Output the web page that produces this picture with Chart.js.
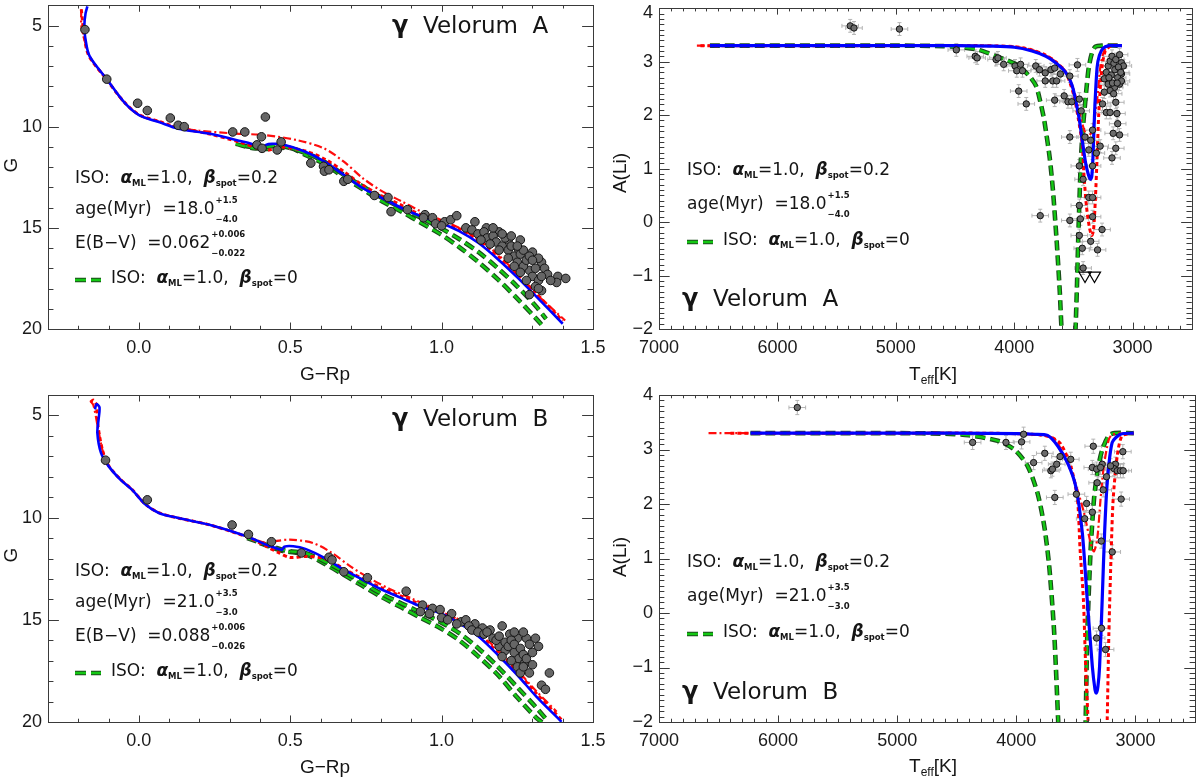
<!DOCTYPE html>
<html><head><meta charset="utf-8">
<script src="https://cdn.jsdelivr.net/npm/chart.js@4.4.1/dist/chart.umd.min.js"></script>
<style>
html,body{margin:0;padding:0;background:#fff;}
#wrap{position:relative;width:1200px;height:780px;overflow:hidden;background:#fff}
#wrap canvas{position:absolute;left:0;top:0}
</style></head><body>
<div id="wrap">
<canvas id="cTL" width="1200" height="780"></canvas>
<canvas id="cTR" width="1200" height="780"></canvas>
<canvas id="cBL" width="1200" height="780"></canvas>
<canvas id="cBR" width="1200" height="780"></canvas>
</div>
<script>
// ---------------- tick labels ----------------
const cmdXTicks = [0.0, 0.5, 1.0, 1.5];
const cmdYTicks = [5, 10, 15, 20];
const liXTicks = [7000, 6000, 5000, 4000, 3000];
const liYTicks = [-2, -1, 0, 1, 2, 3, 4];

// ---------------- gamma Vel A : CMD ----------------
const cmdA_starX = [-0.178,-0.106,-0.004,0.028,0.104,0.13,0.15,0.31,0.35,0.418,0.405,0.39,0.407,0.457,0.47,0.568,0.61,0.613,0.628,0.677,0.69,0.778,0.823,0.833,0.887,0.945,0.97,1.01,1.03,1.05,1.11,1.148,1.19,1.22,1.26,1.255,1.30,1.33,1.34,1.29,1.35,1.384,1.41,1.38,1.33,1.08,1.10,1.12,1.14,1.15,1.17,1.18,1.20,1.21,1.22,1.23,1.24,1.25,1.26,1.27,1.28,1.29,1.30,1.31,1.32,1.31,1.28,1.26,1.24,1.22,1.19,1.16,1.13,1.32,1.36,1.33,1.30,1.27,1.25,1.23,1.20,1.17,1.29,1.32,0.94,0.98,1.00];
const cmdA_starG = [5.2,7.65,8.84,9.2,9.57,9.93,10.0,10.26,10.26,9.52,10.5,10.9,11.07,11.15,10.75,11.8,11.96,12.2,12.13,12.7,12.6,13.4,13.5,14.2,14.1,14.35,14.5,14.7,14.6,14.4,14.7,15.0,15.2,15.6,15.6,16.1,16.2,16.7,17.0,17.1,17.3,17.4,17.5,17.7,18.1,15.0,15.1,15.3,15.2,15.5,15.4,15.7,15.9,15.5,16.1,15.9,16.4,16.7,16.3,16.9,16.6,16.4,17.4,17.0,17.6,17.9,17.6,17.2,16.9,16.5,16.1,15.8,15.6,16.5,17.6,17.4,16.6,16.1,15.9,15.4,15.3,15.0,18.3,18.0,14.5,14.8,14.9];
const cmdA_bestX = [-0.17,-0.176,-0.18,-0.177,-0.163,-0.106,-0.048,0.002,0.066,0.13,0.231,0.346,0.395,0.41,0.42,0.44,0.473,0.55,0.613,0.677,0.74,0.804,0.868,0.931,0.995,1.058,1.122,1.186,1.25,1.313,1.40];
const cmdA_bestG = [4.05,4.4,5.0,5.6,6.5,7.65,8.8,9.44,9.77,10.1,10.34,10.75,10.95,11.05,10.9,10.85,10.87,11.24,11.73,12.38,13.04,13.53,14.02,14.43,14.75,15.16,15.75,16.55,17.45,18.4,19.74];
const cmdA_dotX = [-0.19,-0.186,-0.18,-0.165,-0.11,-0.05,0.0,0.07,0.13,0.23,0.33,0.40,0.43,0.47,0.55,0.62,0.68,0.74,0.80,0.87,0.93,1.0,1.06,1.12,1.19,1.25,1.31,1.40];
const cmdA_dotG = [4.2,4.8,5.6,6.5,7.6,8.75,9.4,9.75,10.05,10.35,10.75,11.1,11.15,11.0,11.2,11.65,12.25,12.9,13.4,13.9,14.35,14.7,15.05,15.6,16.45,17.3,18.2,19.6];
const cmdA_ddX = [-0.19,-0.19,-0.178,-0.16,-0.106,-0.05,0.0,0.07,0.13,0.2,0.32,0.42,0.524,0.613,0.677,0.74,0.804,0.868,0.931,0.995,1.058,1.122,1.186,1.25,1.313,1.408];
const cmdA_ddG = [4.2,5.0,5.8,6.6,7.65,8.78,9.42,9.77,10.05,10.2,10.34,10.42,10.67,11.08,11.73,12.55,13.2,13.69,14.18,14.59,15.0,15.57,16.31,17.29,18.27,19.58];
const cmdA_g1X = [0.32,0.385,0.42,0.47,0.55,0.613,0.677,0.74,0.804,0.868,0.931,0.995,1.058,1.122,1.186,1.25,1.313,1.345];
const cmdA_g1G = [10.85,11.08,11.0,10.95,11.3,11.73,12.38,12.96,13.53,14.02,14.5,15.0,15.55,16.2,17.0,17.9,18.9,19.5];
const cmdA_g2X = [0.35,0.42,0.5,0.55,0.613,0.677,0.74,0.804,0.868,0.931,0.995,1.058,1.122,1.186,1.25,1.313,1.34];
const cmdA_g2G = [10.95,11.1,11.05,11.4,11.85,12.5,13.1,13.7,14.2,14.75,15.3,15.95,16.7,17.55,18.5,19.5,19.95];

// ---------------- gamma Vel B : CMD ----------------
const cmdB_starX = [-0.11,0.028,0.308,0.362,0.438,0.537,0.628,0.638,0.677,0.755,0.883,0.937,0.97,0.995,1.033,1.065,1.08,1.11,1.135,1.16,1.2,1.225,1.25,1.28,1.29,1.19,1.21,1.24,1.255,1.275,1.3,1.29,1.356,1.33,1.343,0.93,0.96,1.0,1.02,1.05,1.09,1.1,1.12,1.14,1.15,1.17,1.18,1.19,1.21,1.22,1.23,1.24,1.26,1.27,1.28,1.2,1.23,1.25,1.26,1.27,1.24,1.27,1.31,1.32,1.3];
const cmdB_starG = [7.19,9.13,10.36,10.82,11.18,11.73,11.94,12.07,12.65,12.94,13.6,14.28,14.44,14.5,14.7,15.1,15.0,15.2,15.4,15.5,15.3,15.7,15.9,15.9,16.2,16.3,16.5,16.6,16.9,17.1,17.2,17.6,17.6,18.2,18.4,14.6,14.7,14.9,15.0,15.2,15.3,15.5,15.6,15.7,15.6,15.9,16.0,15.8,16.1,16.3,16.0,16.2,16.4,16.7,16.9,16.8,17.0,17.3,17.6,17.3,15.6,15.6,15.9,16.3,16.6];
const cmdB_bestX = [-0.145,-0.14,-0.13,-0.133,-0.137,-0.125,-0.1,-0.061,-0.023,0.022,0.066,0.13,0.23,0.358,0.42,0.473,0.48,0.51,0.55,0.613,0.677,0.74,0.804,0.868,0.931,0.995,1.058,1.122,1.186,1.25,1.313,1.396];
const cmdB_bestG = [4.7,4.45,4.6,5.2,5.85,6.83,7.48,8.14,8.63,9.36,9.77,10.02,10.34,10.92,11.32,11.57,11.42,11.4,11.53,11.97,12.55,13.04,13.53,13.94,14.35,14.67,15.16,15.82,16.72,17.7,18.76,19.99];
const cmdB_dotX = [-0.16,-0.15,-0.14,-0.135,-0.12,-0.1,-0.061,-0.023,0.022,0.066,0.13,0.23,0.358,0.42,0.46,0.50,0.55,0.613,0.677,0.74,0.804,0.868,0.931,0.995,1.058,1.122,1.186,1.25,1.313,1.40];
const cmdB_dotG = [4.35,4.25,4.5,5.5,6.7,7.45,8.12,8.62,9.35,9.76,10.02,10.34,10.95,11.4,11.7,11.95,11.9,12.0,12.5,13.0,13.45,13.85,14.25,14.6,15.05,15.7,16.6,17.55,18.6,19.95];
const cmdB_ddX = [-0.16,-0.15,-0.135,-0.12,-0.1,-0.061,-0.023,0.022,0.066,0.13,0.23,0.358,0.42,0.448,0.498,0.575,0.638,0.70,0.766,0.83,0.9,0.97,1.04,1.1,1.17,1.24,1.31,1.38];
const cmdB_ddG = [4.3,4.5,5.6,6.7,7.45,8.12,8.62,9.35,9.76,10.02,10.34,10.92,11.25,11.16,11.08,11.24,11.73,12.4,13.0,13.5,13.95,14.4,14.85,15.4,16.25,17.3,18.45,19.5];
const cmdB_g1X = [0.358,0.42,0.473,0.5,0.55,0.613,0.677,0.74,0.804,0.868,0.931,0.995,1.058,1.122,1.186,1.25,1.313,1.35];
const cmdB_g1G = [11.0,11.32,11.57,11.65,11.73,12.14,12.65,13.2,13.75,14.2,14.65,15.1,15.65,16.4,17.3,18.3,19.3,19.95];
const cmdB_g2X = [0.40,0.473,0.55,0.613,0.677,0.74,0.804,0.868,0.931,0.995,1.058,1.122,1.186,1.25,1.313,1.335];
const cmdB_g2G = [11.25,11.62,11.8,12.25,12.8,13.35,13.9,14.4,14.9,15.4,16.0,16.8,17.7,18.8,19.8,20.05];

// ---------------- gamma Vel A : Lithium ----------------
const liA_T = [5385,5353,4969,4489,4329,4313,4153,4137,4089,3993,3946,3978,3930,3962,3898,3818,3786,3738,3738,3690,3658,3674,3642,3610,3530,3578,3658,3546,3514,3466,3450,3434,3530,3402,3354,3338,3370,3450,3418,3338,3306,3274,3780,3530,3450,3441,3450,3425,3370,3338,3338,3354,3296,3258,3418,3239,3222,3206,3190,3174,3158,3142,3110,3094,3078,3094,3126,3110,3152,3190,3206,3239,3254,3222,3190,3142,3132,3126,3164,3110,3142,3174,3094,3180,3150,3120,3100,3170,3200,3130,3160];
const liA_A = [3.67,3.63,3.61,3.22,3.10,3.07,3.04,3.07,2.95,2.92,2.95,2.83,2.83,2.45,2.21,2.92,2.85,2.79,2.64,2.85,2.88,2.64,2.64,2.77,2.73,2.36,2.28,2.25,2.25,2.94,2.3,2.08,1.59,1.59,1.53,1.72,1.35,1.05,0.80,1.05,1.29,1.42,0.12,0.03,0.31,0.06,-0.25,-0.49,0.46,0.46,0.1,-0.36,-0.52,-0.14,-0.86,2.68,2.8,2.92,3.01,3.1,2.97,3.04,3.13,2.98,2.92,2.77,2.7,2.58,2.52,2.46,2.58,2.43,2.21,2.05,2.05,2.24,2.03,1.84,1.66,1.63,1.38,1.20,2.64,2.75,2.85,2.9,2.8,2.6,2.7,2.6,2.4];
const liA_limT = [3402, 3322];
const liA_limA = [-1.0, -1.0];
const liA_errT = 70, liA_errA = 0.12;
const liA_bestT = [6570,6000,5000,4500,4200,4000,3850,3732,3650,3565,3510,3454,3420,3398,3375,3356,3345,3335,3320,3300,3280,3250,3200,3150,3090];
const liA_bestA = [3.3,3.3,3.3,3.3,3.29,3.27,3.2,3.1,2.98,2.8,2.55,1.97,1.45,1.12,0.9,0.8,0.85,1.2,2.1,2.89,3.12,3.25,3.3,3.3,3.3];
const liA_dotT = [6650,5000,4300,4000,3850,3732,3650,3565,3500,3460,3426,3412,3390,3365,3345,3330,3315,3300,3287,3270,3255,3230,3180,3090];
const liA_dotA = [3.3,3.3,3.3,3.28,3.22,3.12,3.0,2.8,2.4,1.95,1.47,0.92,0.3,-0.1,-0.25,-0.15,0.4,1.2,1.97,2.6,2.95,3.2,3.3,3.3];
const liA_ddT = [6680,5000,4300,4000,3850,3732,3650,3565,3500,3460,3420,3398,3370,3342,3320,3300,3273,3240,3180,3090];
const liA_ddA = [3.3,3.3,3.3,3.28,3.22,3.12,3.0,2.82,2.5,2.15,1.8,1.66,1.6,1.72,1.95,2.27,2.89,3.2,3.3,3.3];
const liA_gT = [6570,5000,4600,4450,4300,4149,3983,3880,3816,3790,3750,3732,3700,3673,3640,3615,3600,3570,3500,3482,3470,3459,3446,3436,3420,3400,3385,3370,3345,3314,3250,3090];
const liA_gA = [3.3,3.3,3.29,3.27,3.22,3.1,2.95,2.75,2.55,2.35,1.95,1.7,1.2,0.6,-0.4,-1.3,-2.0,-2.8,-2.8,-2.0,-1.2,-0.3,0.6,1.2,1.75,2.25,2.6,2.89,3.15,3.28,3.3,3.3];

// ---------------- gamma Vel B : Lithium ----------------
const liB_T = [5839,4367,4087,3956,3939,3855,3761,3710,3697,3661,3633,3543,3677,3496,3410,3426,3362,3354,3362,3321,3326,3279,3271,3243,3287,3195,3168,3181,3153,3126,3106,3103,3120,3285,3326,3251,3209,3293];
const liB_A = [3.77,3.13,3.13,3.14,3.28,2.76,2.93,2.61,2.64,2.73,2.87,2.82,2.12,2.18,2.01,1.73,1.85,3.06,2.67,2.39,2.64,2.73,2.26,2.5,1.32,1.12,2.73,2.65,2.61,2.61,2.96,2.61,2.09,-0.28,-0.46,-0.67,2.7,2.67];
const liB_errT = 70, liB_errA = 0.13;
const liB_bestT = [6232,5000,4500,4000,3850,3738,3654,3571,3502,3446,3405,3362,3340,3329,3315,3301,3279,3259,3237,3195,3126,3014];
const liB_bestA = [3.3,3.3,3.3,3.29,3.28,3.26,3.07,2.76,2.33,1.47,0.25,-0.98,-1.4,-1.47,-1.35,-0.98,0.25,1.47,2.39,3.13,3.28,3.3];
const liB_dotT = [6400,5000,4300,4000,3800,3700,3626,3543,3487,3465,3437,3418,3398,3390,3245,3237,3223,3203,3187,3153,3112,3014];
const liB_dotA = [3.3,3.3,3.3,3.29,3.27,3.22,3.1,2.7,2.09,1.17,0.25,-0.98,-1.96,-2.6,-2.6,-1.96,-0.37,1.17,2.09,2.88,3.25,3.3];
const liB_ddT = [6584,5000,4300,4000,3800,3682,3599,3515,3432,3377,3349,3321,3293,3265,3223,3190,3014];
const liB_ddA = [3.3,3.3,3.3,3.29,3.26,3.2,2.88,2.45,1.84,1.29,1.13,1.35,2.09,2.7,3.19,3.28,3.3];
const liB_gT = [6232,5000,4600,4400,4156,4017,3906,3822,3766,3724,3682,3649,3635,3430,3418,3404,3376,3348,3320,3278,3209,3014];
const liB_gA = [3.3,3.3,3.29,3.26,3.16,3.0,2.7,2.2,1.6,0.86,-0.37,-1.96,-2.6,-2.6,-1.96,-0.37,1.17,2.09,2.58,3.0,3.28,3.3];

// ---------------- annotation values ----------------
const clusterA = 'A', clusterB = 'B';
const ageA = '18.0', ageA_up = '+1.5', ageA_lo = '\u22124.0';
const ageB = '21.0', ageB_up = '+3.5', ageB_lo = '\u22123.0';
const ebvA = '0.062', ebvA_up = '+0.006', ebvA_lo = '\u22120.022';
const ebvB = '0.088', ebvB_up = '+0.006', ebvB_lo = '\u22120.026';
const alphaML = '1.0', betaSpot = '0.2', betaZero = '0';

// ================= helpers =================
const TICKFAM = '"Liberation Sans", Arial, sans-serif';
const TXT = '"DejaVu Sans", sans-serif';
const F_MAIN = '17px ' + TXT;
const F_GREEK = 'bold italic 17px ' + TXT;
const F_SUB = 'bold 8.5px ' + TXT;
const INK = '#151515';

function pts(xs, ys){ return xs.map((v,i)=>({x:v, y:ys[i]})); }

const ST = {
  blue:  {borderColor:'#0000ff', borderWidth:2.6},
  red:   {borderColor:'#ff0000', borderWidth:3, borderDash:[4,3]},
  redDD: {borderColor:'#ff0d0d', borderWidth:2.2, borderDash:[8,3,2,3]},
  gDark: {borderColor:'#1b4a1b', borderWidth:4.6, borderDash:[10,5]},
  gLite: {borderColor:'#14c814', borderWidth:2.4, borderDash:[10,5]},
};
function lineDS(xs, ys, style, order, tension){
  return Object.assign({type:'line', data:pts(xs,ys), pointRadius:0, fill:false,
    tension: tension, order: order, borderCapStyle:'butt'}, style);
}
function greenPair(xs, ys, order, tension){
  return [lineDS(xs, ys, ST.gDark, order+1, tension), lineDS(xs, ys, ST.gLite, order, tension)];
}

function rich(ctx, x, y, segs){
  let cx = x;
  ctx.textBaseline = 'middle'; ctx.textAlign = 'left'; ctx.fillStyle = INK;
  for (const s of segs){
    if (s.stack){
      ctx.font = s.f;
      ctx.fillText(s.sup, cx + 1, y - 9);
      ctx.fillText(s.sub, cx + 1, y + 10);
      cx += Math.max(ctx.measureText(s.sup).width, ctx.measureText(s.sub).width) + 1;
    } else {
      ctx.font = s.f;
      ctx.fillText(s.t, cx, y + (s.dy || 0));
      cx += ctx.measureText(s.t).width + (s.gap || 0);
    }
  }
  return cx;
}
function isoSegs(beta){
  return [{t:'ISO:  ', f:F_MAIN}, {t:'\u03b1', f:F_GREEK}, {t:'ML', f:F_SUB, dy:5},
          {t:'=' + alphaML + ',  ', f:F_MAIN}, {t:'\u03b2', f:F_GREEK}, {t:'spot', f:F_SUB, dy:5},
          {t:'=' + beta, f:F_MAIN}];
}
function greenSample(ctx, x, y){
  ctx.save();
  ctx.lineCap = 'butt';
  ctx.setLineDash([11,5]);
  ctx.strokeStyle = ST.gDark.borderColor; ctx.lineWidth = 4.6;
  ctx.beginPath(); ctx.moveTo(x, y); ctx.lineTo(x + 26, y); ctx.stroke();
  ctx.strokeStyle = ST.gLite.borderColor; ctx.lineWidth = 2.4;
  ctx.beginPath(); ctx.moveTo(x, y); ctx.lineTo(x + 26, y); ctx.stroke();
  ctx.restore();
}
function titleText(ctx, x, y, which){
  rich(ctx, x, y, [{t:'\u03b3', f:'bold 24px ' + TXT}, {t:'  Velorum  ' + which, f:'23px ' + TXT}]);
}

function framePlugin(minorX, majorX, minorY, majorY){
  return {id:'frame', afterDatasetsDraw(chart){
    const {ctx, chartArea:a} = chart; const sx = chart.scales.x, sy = chart.scales.y;
    ctx.save();
    ctx.strokeStyle = '#3a3a3a'; ctx.lineWidth = 1;
    ctx.strokeRect(Math.round(a.left)+0.5, Math.round(a.top)+0.5, Math.round(a.right-a.left), Math.round(a.bottom-a.top));
    const h = a.bottom - a.top, w = a.right - a.left;
    const xMaj = 0.02*h, yMaj = 0.02*w;
    ctx.beginPath();
    const lo = Math.min(sx.min, sx.max), hi = Math.max(sx.min, sx.max);
    const nx = Math.round((hi-lo)/minorX);
    for (let i=0;i<=nx;i++){
      const v = lo + i*minorX; const r = v/majorX;
      const L = Math.abs(r - Math.round(r)) < 1e-6 ? xMaj : xMaj/2;
      const px = Math.round(sx.getPixelForValue(v)) + 0.5;
      ctx.moveTo(px, a.bottom); ctx.lineTo(px, a.bottom - L);
      ctx.moveTo(px, a.top); ctx.lineTo(px, a.top + L);
    }
    const ylo = Math.min(sy.min, sy.max), yhi = Math.max(sy.min, sy.max);
    const ny = Math.round((yhi-ylo)/minorY);
    for (let i=0;i<=ny;i++){
      const v = ylo + i*minorY; const r = v/majorY;
      const L = Math.abs(r - Math.round(r)) < 1e-6 ? yMaj : yMaj/2;
      const py = Math.round(sy.getPixelForValue(v)) + 0.5;
      ctx.moveTo(a.left, py); ctx.lineTo(a.left + L, py);
      ctx.moveTo(a.right, py); ctx.lineTo(a.right - L, py);
    }
    ctx.stroke();
    ctx.restore();
  }};
}
const errPlugin = {id:'errbars', beforeDatasetsDraw(chart){
  const {ctx, chartArea:a} = chart; const sx = chart.scales.x, sy = chart.scales.y;
  ctx.save();
  ctx.beginPath(); ctx.rect(a.left, a.top, a.right-a.left, a.bottom-a.top); ctx.clip();
  ctx.strokeStyle = '#b4b4b4'; ctx.lineWidth = 1;
  chart.data.datasets.forEach(ds=>{
    if (ds.errX === undefined) return;
    ds.data.forEach(p=>{
      const x1 = sx.getPixelForValue(p.x - ds.errX), x2 = sx.getPixelForValue(p.x + ds.errX);
      const y1 = sy.getPixelForValue(p.y - ds.errY), y2 = sy.getPixelForValue(p.y + ds.errY);
      const px = sx.getPixelForValue(p.x), py = sy.getPixelForValue(p.y);
      ctx.beginPath();
      ctx.moveTo(x1, py); ctx.lineTo(x2, py);
      ctx.moveTo(x1, py-2); ctx.lineTo(x1, py+2);
      ctx.moveTo(x2, py-2); ctx.lineTo(x2, py+2);
      ctx.moveTo(px, y1); ctx.lineTo(px, y2);
      ctx.moveTo(px-2, y1); ctx.lineTo(px+2, y1);
      ctx.moveTo(px-2, y2); ctx.lineTo(px+2, y2);
      ctx.stroke();
    });
  });
  ctx.restore();
}};
function textPlugin(fn){ return {id:'txt', afterDraw(chart){ const c = chart.ctx; c.save(); fn(c, chart); c.restore(); }}; }

function axisCfg(opts){
  return {
    type:'linear', min:opts.min, max:opts.max, reverse:!!opts.reverse,
    afterBuildTicks: s => { s.ticks = opts.ticks.map(v=>({value:v})); },
    afterFit: s => {
      if (opts.horizontal){ s.height = opts.size; s.paddingLeft = 0; s.paddingRight = 0; }
      else { s.width = opts.size; s.paddingTop = 0; s.paddingBottom = 0; }
    },
    grid:{display:false, drawTicks:false}, border:{display:false},
    ticks:{padding: opts.pad, color:'#1a1a1a', font:{family:TICKFAM, size:18}, maxRotation:0, autoSkip:false,
           callback: opts.fmt}
  };
}

function makeChart(canvasId, box, xOpt, yOpt, datasets, plugins){
  const yW = box.L - box.padL;
  return new Chart(document.getElementById(canvasId), {
    type:'scatter',
    data:{datasets},
    options:{
      responsive:false, animation:false, devicePixelRatio:1, events:[],
      layout:{padding:{left:box.padL, right:1200-box.R, top:box.T, bottom:780-box.B-box.xH}},
      plugins:{legend:{display:false}, tooltip:{enabled:false}},
      scales:{
        x: axisCfg(Object.assign({horizontal:true, size:box.xH, pad:8}, xOpt)),
        y: axisCfg(Object.assign({horizontal:false, size:yW, pad:6}, yOpt))
      }
    },
    plugins: plugins
  });
}

const fmtCMDx = v => Number(v).toFixed(1);
const fmtInt = v => String(v);
const fmtLiY = v => v < 0 ? '\u2212' + Math.abs(v) : String(v);
const fmtLiYtop = v => v === 4 ? '' : fmtLiY(v);

function starDS(xs, ys, order){
  return {type:'scatter', data:pts(xs,ys), pointRadius:4.3, pointBackgroundColor:'#666666',
          pointBorderColor:'#151515', pointBorderWidth:1, order:order};
}
function liStarDS(xs, ys, eT, eA, order){
  return {type:'scatter', data:pts(xs,ys), pointRadius:3.2, pointBackgroundColor:'#6c6c6c',
          pointBorderColor:'#111111', pointBorderWidth:1, order:order, errX:eT, errY:eA};
}

function cmdTexts(ctx, o){
  titleText(ctx, 392, o.titleY, o.which);
  rich(ctx, 75, o.y0, isoSegs(betaSpot));
  rich(ctx, 75, o.y0 + 31, [{t:'age(Myr)  =' + o.age, f:F_MAIN}, {stack:true, sup:o.up, sub:o.lo, f:F_SUB}]);
  rich(ctx, 75, o.y0 + 65, [{t:'E(B\u2212V)  =' + o.ebv, f:F_MAIN}, {stack:true, sup:o.eup, sub:o.elo, f:F_SUB}]);
  greenSample(ctx, 75, o.y0 + 101);
  rich(ctx, 111, o.y0 + 100, isoSegs(betaZero));
  // axis titles
  ctx.font = '19px ' + TICKFAM; ctx.fillStyle = INK; ctx.textAlign = 'center'; ctx.textBaseline = 'middle';
  ctx.fillText('G\u2212Rp', 325, o.xtY);
  ctx.save(); ctx.translate(12, o.ytY); ctx.rotate(-Math.PI/2); ctx.fillText('G', 0, 0); ctx.restore();
}
function liTexts(ctx, o){
  titleText(ctx, 682, o.titleY, o.which);
  rich(ctx, 687, o.y0, isoSegs(betaSpot));
  rich(ctx, 687, o.y0 + 34, [{t:'age(Myr)  =' + o.age, f:F_MAIN}, {stack:true, sup:o.up, sub:o.lo, f:F_SUB}]);
  greenSample(ctx, 687, o.y0 + 71);
  rich(ctx, 723, o.y0 + 70, isoSegs(betaZero));
  // axis titles
  ctx.fillStyle = INK; ctx.textBaseline = 'middle';
  ctx.font = '19px ' + TICKFAM;
  const w1 = ctx.measureText('T').width; ctx.font = '12px ' + TICKFAM; const w2 = ctx.measureText('eff').width;
  ctx.font = '19px ' + TICKFAM; const w3 = ctx.measureText('[K]').width;
  let x = 933 - (w1 + w2 + w3)/2; ctx.textAlign = 'left';
  ctx.fillText('T', x, o.xtY); x += w1;
  ctx.font = '12px ' + TICKFAM; ctx.fillText('eff', x, o.xtY + 6); x += w2;
  ctx.font = '19px ' + TICKFAM; ctx.fillText('[K]', x, o.xtY);
  ctx.textAlign = 'center';
  ctx.save(); ctx.translate(621, o.ytY); ctx.rotate(-Math.PI/2); ctx.fillText('A(Li)', 0, 0); ctx.restore();
  if (o.topLabel){
    ctx.textAlign = 'right'; ctx.font = '18px ' + TICKFAM; ctx.fillStyle = '#1a1a1a';
    ctx.fillText('4', 653, o.chart.scales.y.getPixelForValue(4) + 5);
  }
}

// ================= panels =================
// top-left : CMD gamma Vel A
makeChart('cTL', {padL:0, L:48, R:593, T:3, B:329, xH:61},
  {min:-0.3, max:1.5, ticks:cmdXTicks, fmt:fmtCMDx},
  {min:4, max:20, reverse:true, ticks:cmdYTicks, fmt:fmtInt},
  [
    starDS(cmdA_starX, cmdA_starG, 0),
    ...greenPair(cmdA_g1X, cmdA_g1G, 6, 0.3),
    ...greenPair(cmdA_g2X, cmdA_g2G, 8, 0.3),
    lineDS(cmdA_ddX, cmdA_ddG, ST.redDD, 4, 0.3),
    lineDS(cmdA_dotX, cmdA_dotG, ST.red, 3, 0.3),
    lineDS(cmdA_bestX, cmdA_bestG, ST.blue, 2, 0.3),
  ],
  [framePlugin(0.1, 0.5, 1, 5), textPlugin((ctx)=>cmdTexts(ctx, {which:clusterA, titleY:27, y0:179, age:ageA, up:ageA_up, lo:ageA_lo, ebv:ebvA, eup:ebvA_up, elo:ebvA_lo, xtY:375, ytY:165}))]
);

// top-right : Li gamma Vel A
makeChart('cTR', {padL:600, L:659, R:1198, T:3, B:329, xH:61},
  {min:2500, max:7000, reverse:true, ticks:liXTicks, fmt:fmtInt},
  {min:-2, max:4, ticks:liYTicks, fmt:fmtLiYtop},
  [
    liStarDS(liA_T, liA_A, liA_errT, liA_errA, 0),
    {type:'scatter', data:pts(liA_limT, liA_limA), pointStyle:'triangle', rotation:180, pointRadius:7,
     pointBackgroundColor:'rgba(255,255,255,0)', pointBorderColor:'#000', pointBorderWidth:1.2, order:1},
    ...greenPair(liA_gT, liA_gA, 6, 0.25),
    lineDS(liA_ddT, liA_ddA, ST.redDD, 4, 0.25),
    lineDS(liA_dotT, liA_dotA, ST.red, 3, 0.25),
    lineDS(liA_bestT, liA_bestA, Object.assign({}, ST.blue, {borderWidth:3.2}), 2, 0.25),
  ],
  [errPlugin, framePlugin(100, 1000, 0.1, 1), textPlugin((ctx, ch)=>liTexts(ctx, {which:clusterA, titleY:300, y0:171, age:ageA, up:ageA_up, lo:ageA_lo, xtY:375, ytY:173, topLabel:true, chart:ch}))]
);

// bottom-left : CMD gamma Vel B
makeChart('cBL', {padL:0, L:48, R:593, T:395, B:722, xH:58},
  {min:-0.3, max:1.5, ticks:cmdXTicks, fmt:fmtCMDx},
  {min:4, max:20, reverse:true, ticks:cmdYTicks, fmt:fmtInt},
  [
    starDS(cmdB_starX, cmdB_starG, 0),
    ...greenPair(cmdB_g1X, cmdB_g1G, 6, 0.3),
    ...greenPair(cmdB_g2X, cmdB_g2G, 8, 0.3),
    lineDS(cmdB_ddX, cmdB_ddG, ST.redDD, 4, 0.3),
    lineDS(cmdB_dotX, cmdB_dotG, ST.red, 3, 0.3),
    lineDS(cmdB_bestX, cmdB_bestG, ST.blue, 2, 0.3),
  ],
  [framePlugin(0.1, 0.5, 1, 5), textPlugin((ctx)=>cmdTexts(ctx, {which:clusterB, titleY:420, y0:572, age:ageB, up:ageB_up, lo:ageB_lo, ebv:ebvB, eup:ebvB_up, elo:ebvB_lo, xtY:768, ytY:555}))]
);

// bottom-right : Li gamma Vel B
makeChart('cBR', {padL:600, L:659, R:1198, T:395, B:722, xH:58},
  {min:2500, max:7000, reverse:true, ticks:liXTicks, fmt:fmtInt},
  {min:-2, max:4, ticks:liYTicks, fmt:fmtLiY},
  [
    liStarDS(liB_T, liB_A, liB_errT, liB_errA, 0),
    ...greenPair(liB_gT, liB_gA, 6, 0.25),
    lineDS(liB_ddT, liB_ddA, ST.redDD, 4, 0.25),
    lineDS(liB_dotT, liB_dotA, ST.red, 3, 0.25),
    lineDS(liB_bestT, liB_bestA, Object.assign({}, ST.blue, {borderWidth:3.2}), 2, 0.25),
  ],
  [errPlugin, framePlugin(100, 1000, 0.1, 1), textPlugin((ctx, ch)=>liTexts(ctx, {which:clusterB, titleY:693, y0:563, age:ageB, up:ageB_up, lo:ageB_lo, xtY:767, ytY:557, topLabel:false, chart:ch}))]
);
</script>
</body></html>
